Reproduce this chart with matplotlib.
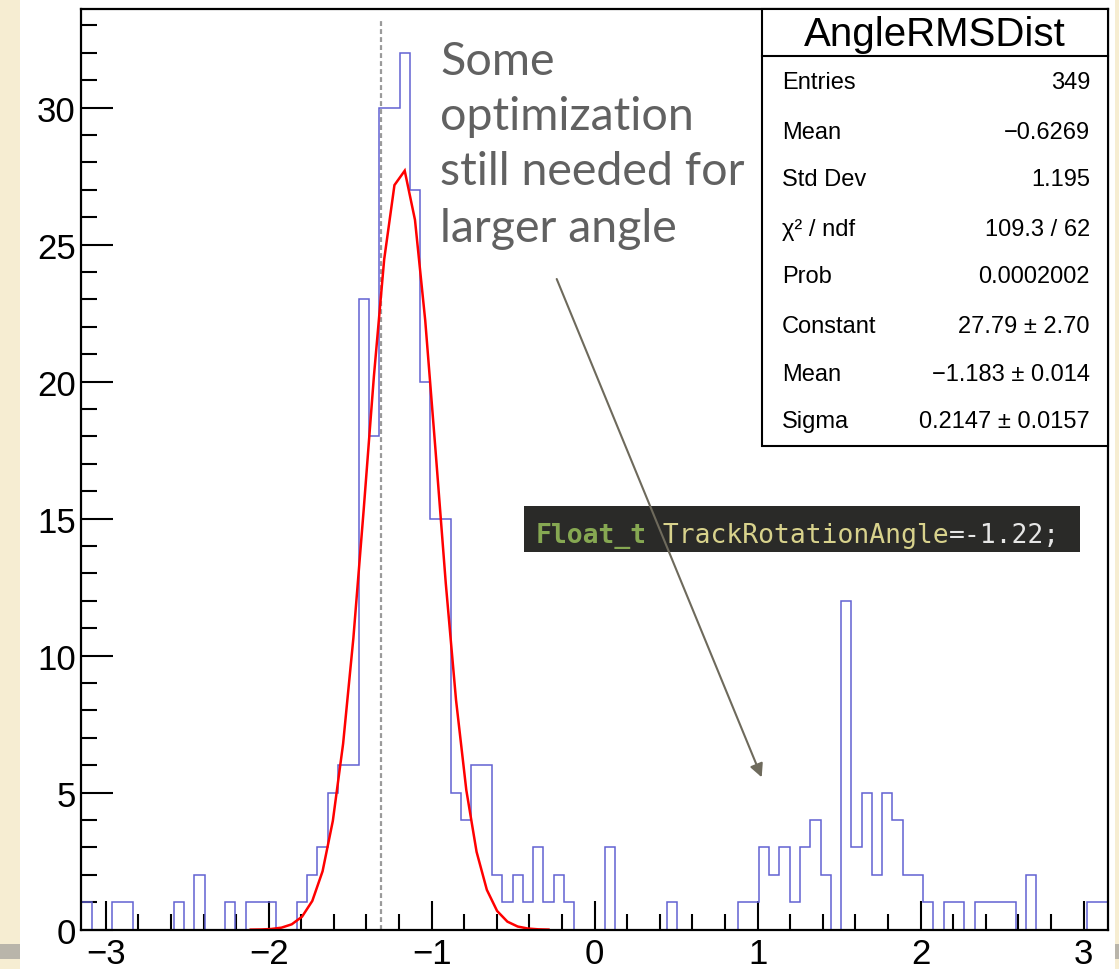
import numpy as np
import matplotlib
matplotlib.use("Agg")
import matplotlib.pyplot as plt
from matplotlib.patches import Rectangle, FancyArrowPatch

# ---------------- data ----------------
x_lo, x_hi = -3.15, 3.15
n_bins = 100
counts = [1, 0, 0, 1, 1, 0, 0, 0, 0, 1,
          0, 2, 0, 0, 1, 0, 1, 1, 1, 0,
          0, 1, 2, 3, 5, 6, 6, 23, 18, 30,
          30, 32, 27, 20, 15, 15, 5, 4, 6, 6,
          2, 1, 2, 1, 3, 1, 2, 1, 0, 0,
          0, 3, 0, 0, 0, 0, 0, 1, 0, 0,
          0, 0, 0, 0, 1, 1, 3, 2, 3, 1,
          3, 4, 2, 0, 12, 3, 5, 2, 5, 4,
          2, 2, 1, 0, 1, 1, 0, 1, 1, 1,
          1, 0, 2, 0, 0, 0, 0, 0, 1, 1]

gaus_const, gaus_mean, gaus_sigma = 27.79, -1.183, 0.2147
fit_lo, fit_hi = -2.12, -0.28
marker_x = -1.31

x_ticks = [-3, -2, -1, 0, 1, 2, 3]
y_ticks = [0, 5, 10, 15, 20, 25, 30]
y_max = 33.6

stats_title = "AngleRMSDist"
stats_labels = ["Entries", "Mean", "Std Dev", "\u03c7\u00b2 / ndf", "Prob",
                "Constant", "Mean", "Sigma"]
stats_values = ["349", "\u22120.6269", "1.195", "109.3 / 62", "0.0002002",
                "27.79 \u00b1 2.70", "\u22121.183 \u00b1 0.014", "0.2147 \u00b1 0.0157"]

note_lines = ["Some", "optimization", "still needed for", "larger angle"]
code_parts = [("Float_t", "#86a852", "bold"),
              (" TrackRotationAngle", "#d8d28c", "normal"),
              ("=-1.22;", "#e6e6e6", "normal")]

# ---------------- figure ----------------
W, H = 1119, 970
fig = plt.figure(figsize=(W / 100, H / 100), dpi=100)
fig.patch.set_facecolor("white")

def fx(px):
    return px / W

def fy(py):
    return 1 - py / H

L, R, T, B = 81.3, 1108.0, 10.0, 930.7
ax = fig.add_axes([fx(L), fy(B), fx(R) - fx(L), fy(T) - fy(B)])
ax.set_facecolor("white")

edges = np.linspace(x_lo, x_hi, n_bins + 1)
centers = 0.5 * (edges[:-1] + edges[1:])
ax.stairs(counts, edges, baseline=0, color="#6262d2", lw=1.1, zorder=3)

xc = centers[(centers >= fit_lo) & (centers <= fit_hi)]
yc = gaus_const * np.exp(-0.5 * ((xc - gaus_mean) / gaus_sigma) ** 2)
ax.plot(xc, yc, color="#ff0000", lw=1.8, zorder=4, solid_joinstyle="miter")

ax.axvline(marker_x, ymin=0, ymax=0.99, color="#9a9a9a", lw=1.6,
           linestyle=(0, (2.2, 1.4)), zorder=2)

ax.set_xlim(x_lo, x_hi)
ax.set_ylim(0, y_max)
ax.set_xticks(x_ticks)
ax.set_yticks(y_ticks)
ax.set_xticks(np.arange(-3.0, 3.01, 0.2), minor=True)
ax.set_yticks(np.arange(0, 34, 1), minor=True)
ax.tick_params(axis="both", which="both", direction="in", top=False, right=False,
               width=1.5, colors="black")
ax.tick_params(axis="x", which="major", length=21, pad=5, labelsize=25)
ax.tick_params(axis="x", which="minor", length=11.3)
ax.tick_params(axis="y", which="major", length=23, pad=4, labelsize=25)
ax.tick_params(axis="y", which="minor", length=11.5)
for lab in ax.get_xticklabels() + ax.get_yticklabels():
    lab.set_fontfamily("Liberation Sans")
for sp in ax.spines.values():
    sp.set_linewidth(1.6)
    sp.set_zorder(6)

# ---------------- overlay in pixel coordinates ----------------
ov = fig.add_axes([0, 0, 1, 1])
ov.set_xlim(0, W)
ov.set_ylim(H, 0)
ov.axis("off")
ov.patch.set_alpha(0)

# slide background strips
ov.add_patch(Rectangle((0, 0), 20, H, facecolor="#f6edd2", edgecolor="none"))
ov.add_patch(Rectangle((1115, 0), 4, H, facecolor="#f6edd2", edgecolor="none"))
ov.add_patch(Rectangle((0, 945), 20, 15, facecolor="#b9b5aa", edgecolor="none"))
ov.add_patch(Rectangle((1115, 945), 4, 15, facecolor="#b9b5aa", edgecolor="none"))

# stats box
bx0, bx1, by0, by1, bsep = 762.3, 1108.0, 10.0, 446.7, 57.3
ov.add_patch(Rectangle((bx0, by0), bx1 - bx0, by1 - by0, facecolor="white",
                       edgecolor="black", lw=1.5, zorder=5))
ov.plot([bx0, bx1], [bsep, bsep], color="black", lw=1.5, zorder=6)
ov.text((bx0 + bx1) / 2, (by0 + bsep) / 2 + 1, stats_title, ha="center", va="center",
        fontsize=29, family="Liberation Sans", zorder=7)
row_y = [83.3, 133.3, 180.0, 230.0, 276.7, 326.7, 375.0, 421.7]
for yy, lab, val in zip(row_y, stats_labels, stats_values):
    ov.text(781.7, yy, lab, ha="left", va="center", fontsize=17,
            family="Liberation Sans", zorder=7)
    ov.text(1090, yy, val, ha="right", va="center", fontsize=17,
            family="Liberation Sans", zorder=7)

# code snippet box
ov.add_patch(Rectangle((524, 507.3), 1080 - 524, 552.7 - 507.3,
                       facecolor="#2a2a28", edgecolor="none", zorder=8))
xpos = 536
t_prev = None
for txt, col, wt in code_parts:
    if t_prev is None:
        t_prev = ov.text(xpos, 536, txt, ha="left", va="center", fontsize=19,
                         family="DejaVu Sans Mono", color=col, weight=wt, zorder=9)
    else:
        t_prev = ov.annotate(txt, xy=(1, 0), xycoords=t_prev, xytext=(0, 0),
                             textcoords="offset points", ha="left", va="bottom",
                             fontsize=19, family="DejaVu Sans Mono", color=col,
                             weight=wt, zorder=9)

# annotation note
note_base = [75, 130, 185, 241.7]
for yy, line in zip(note_base, note_lines):
    ov.text(440, yy, line, ha="left", va="baseline", fontsize=33.5,
            family="Lato", color="#616161", zorder=10)

arr = FancyArrowPatch((556.7, 280), (761.7, 778.3), arrowstyle="-|>",
                      mutation_scale=20, color="#6e6a5c", lw=1.5, zorder=11,
                      shrinkA=0, shrinkB=0)
ov.add_patch(arr)

fig.savefig("out.png", dpi=100, facecolor=fig.get_facecolor())
